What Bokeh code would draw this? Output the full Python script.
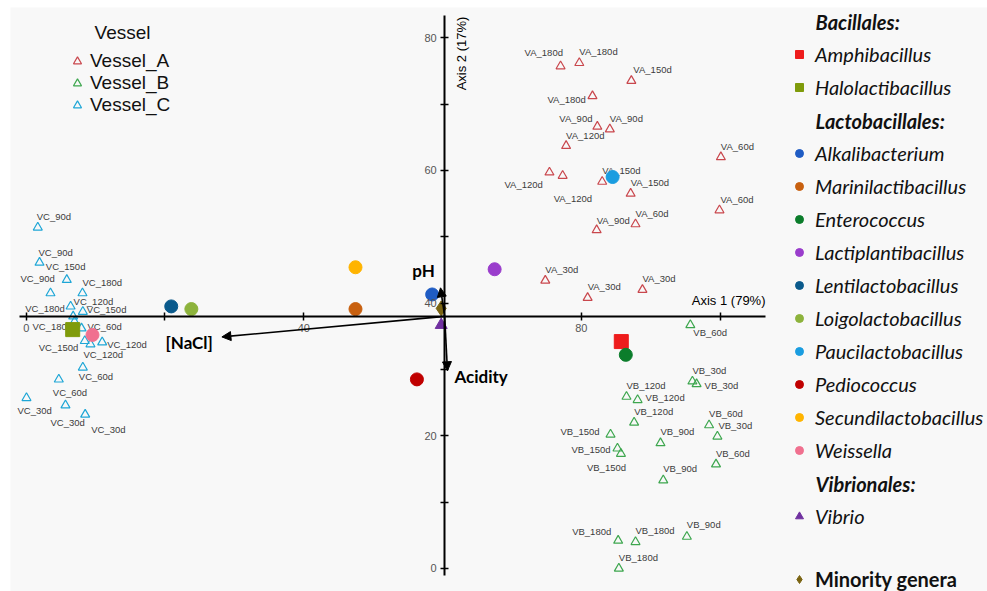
from bokeh.plotting import figure
from bokeh.models import (ColumnDataSource, LinearAxis, FixedTicker, Arrow, NormalHead,
                          Label, Legend, LegendItem, Range1d)
from bokeh.embed import file_html
from bokeh.resources import INLINE
from bokeh.core.properties import value
import math

# ---------------- data ----------------
va_x = [77.0, 79.7, 87.2, 81.6, 82.3, 84.1, 77.8, 100.1, 75.4, 77.3, 83.0, 87.1, 99.9, 82.2, 87.8, 74.8, 80.9, 88.8]
va_y = [75.7, 76.2, 73.5, 71.2, 66.6, 66.2, 63.7, 62.0, 59.7, 59.2, 58.3, 56.5, 54.0, 51.0, 51.9, 43.4, 40.8, 42.0]
va_lab = ["VA_180d", "VA_180d", "VA_150d", "VA_180d", "VA_90d", "VA_90d", "VA_120d", "VA_60d", "VA_120d",
          "VA_120d", "VA_150d", "VA_150d", "VA_60d", "VA_90d", "VA_60d", "VA_30d", "VA_30d", "VA_30d"]

vb_x = [95.7, 96.0, 96.6, 86.5, 88.1, 87.6, 98.4, 99.6, 84.2, 85.2, 85.7, 91.4, 99.4, 91.8, 85.3, 87.8, 95.2, 85.4]
vb_y = [36.7, 28.2, 27.8, 25.9, 25.4, 22.0, 21.6, 19.9, 20.2, 18.1, 17.3, 18.9, 15.7, 13.3, 4.2, 4.0, 4.8, 0.0]
vb_lab = ["VB_60d", "VB_30d", "VB_30d", "VB_120d", "VB_120d", "VB_120d", "VB_60d", "VB_30d", "VB_150d",
          "VB_150d", "VB_150d", "VB_90d", "VB_60d", "VB_90d", "VB_180d", "VB_180d", "VB_90d", "VB_180d"]

vc_x = [1.67, 1.92, 5.85, 3.50, 8.11, 6.40, 8.16, 6.77, 6.96, 7.97, 8.44, 10.95, 9.26, 8.16, 4.70, 0.04, 5.66, 8.50]
vc_y = [51.4, 46.1, 43.5, 41.5, 41.5, 39.5, 38.7, 38.0, 37.2, 36.2, 34.3, 34.1, 33.8, 30.3, 28.5, 25.7, 24.6, 23.2]
vc_lab = ["VC_90d", "VC_90d", "VC_150d", "VC_90d", "VC_180d", "VC_120d", "VC_150d", "VC_180d", "VC_180d",
          "VC_60d", "VC_150d", "VC_120d", "VC_120d", "VC_60d", "VC_60d", "VC_30d", "VC_30d", "VC_30d"]

vessels = ["Vessel_A", "Vessel_B", "Vessel_C"]

genera = ["Amphibacillus", "Halolactibacillus", "Alkalibacterium", "Marinilactibacillus", "Enterococcus",
          "Lactiplantibacillus", "Lentilactobacillus", "Loigolactobacillus", "Paucilactobacillus",
          "Pediococcus", "Secundilactobacillus", "Weissella", "Vibrio", "Minority genera"]
gen_order = ["Bacillales", "Bacillales", "Lactobacillales", "Lactobacillales", "Lactobacillales",
             "Lactobacillales", "Lactobacillales", "Lactobacillales", "Lactobacillales",
             "Lactobacillales", "Lactobacillales", "Lactobacillales", "Vibrionales", None]
gen_x = [85.75, 6.7, 58.5, 47.45, 86.4, 67.5, 20.9, 23.8, 84.5, 56.3, 47.45, 9.55, 59.8, 59.8]
gen_y = [34.2, 36.0, 41.3, 39.1, 32.2, 45.1, 39.5, 39.1, 59.0, 28.5, 45.4, 35.2, 36.7, 39.2]

env_names = ["pH", "Acidity", "[NaCl]"]
env_x = [59.7, 60.7, 28.2]
env_y = [42.3, 29.8, 34.9]
origin_x, origin_y = 60.3, 38.0

axis1_title = "Axis 1 (79%)"
axis2_title = "Axis 2 (17%)"
x_ticks = [0, 20, 40, 80, 100]
y_ticks = [0, 10, 20, 30, 40, 50, 60, 70, 80]

# ---------------- styling / layout (not data) ----------------
va_off = [(-36, -14), (0, -11), (2, -11), (-45, 3), (-38, -8), (0, -11), (0, -10), (0, -11), (-45, 12),
          (-9, 23), (0, -11), (0, -11), (1, -11), (0, -10), (0, -11), (0, -11), (0, -11), (0, -11)]
vb_off = [(3, 8), (0, -11), (8, 1), (0, -11), (8, -2), (0, -11), (0, -12), (1, -11), (-50, -3),
          (-46, 1), (-34, 14), (0, -12), (0, -11), (0, -12), (-46, -9), (0, -11), (0, -12), (0, -11)]
vc_off = [(-1, -11), (-1, -10), (-21, -13), (-30, -15), (0, -11), (3, -5), (4, -2), (-48, -8), (-42, 5),
          (6, -2), (-46, 7), (5, 2), (-7, 10), (-4, 9), (-6, 13), (-9, 13), (-15, 17), (6, 15)]
vessel_colors = ["#c9474d", "#3da64e", "#1ea6d6"]
gen_colors = ["#ee1c1c", "#7f9b0b", "#1f5cc4", "#c8600f", "#0b7d2b", "#9a3dcc", "#0a5a8c",
              "#8db33c", "#1a9de0", "#c00000", "#ffb400", "#f0708f", "#7030a0", "#7a6412"]
gen_markers = ["square", "square"] + ["circle"] * 10 + ["triangle", "diamond"]
gen_sizes = [14, 14] + [13] * 10 + [12, 15]
env_off = [(-17, -17, "center"), (7, 6, "left"), (-9, 6, "right")]

BG = "#f8f8f8"
FL, FT = 10, 7            # white strip at left / top
W, H = 987, 591
FW, FH = W - FL, H - FT   # frame size

p = figure(width=W, height=H, x_range=Range1d(-2.262, 138.52), y_range=Range1d(-3.47, 84.55),
           x_axis_type=None, y_axis_type=None, toolbar_location=None, output_backend="svg",
           min_border=0, min_border_left=FL, min_border_top=FT,
           background_fill_color=BG, border_fill_color="white", outline_line_color=None)

# axes crossing in the middle of the plot
xaxis = LinearAxis(fixed_location=origin_y, ticker=FixedTicker(ticks=x_ticks),
                   major_label_overrides={20: "", 100: ""}, bounds=(-1.0, 106.5))
yaxis = LinearAxis(fixed_location=origin_x, ticker=FixedTicker(ticks=y_ticks),
                   major_label_overrides={10: "", 30: "", 50: "", 70: ""}, bounds=(-1.1, 83.4))
for ax in (xaxis, yaxis):
    ax.axis_line_width = 2
    ax.axis_line_color = "black"
    ax.major_tick_in = 4
    ax.major_tick_out = 4
    ax.major_tick_line_width = 1.5
    ax.minor_tick_line_color = None
    ax.major_label_text_font = "Liberation Sans"
    ax.major_label_text_font_size = "11px"
    ax.major_label_text_color = "#555555"
    ax.major_label_standoff = 4
p.add_layout(xaxis, "below")
p.add_layout(yaxis, "left")

# sample points
sample_renderers = []
for xs, ys, labs, offs, col in ((va_x, va_y, va_lab, va_off, vessel_colors[0]),
                                (vb_x, vb_y, vb_lab, vb_off, vessel_colors[1]),
                                (vc_x, vc_y, vc_lab, vc_off, vessel_colors[2])):
    src = ColumnDataSource(dict(x=xs, y=ys, lab=labs, dx=[o[0] for o in offs], dy=[o[1] for o in offs]))
    r = p.scatter("x", "y", source=src, marker="triangle", size=9, fill_color=None,
                  line_color=col, line_width=1.2)
    sample_renderers.append(r)
    p.text("x", "y", text="lab", source=src, x_offset="dx", y_offset="dy",
           text_font=value("Liberation Sans"), text_font_size="9.5px", text_color="#3c3c3c",
           text_align="left", text_baseline="middle")

# environmental vectors
env_src = ColumnDataSource(dict(x0=[origin_x] * 3, y0=[origin_y] * 3, x1=env_x, y1=env_y))
p.add_layout(Arrow(end=NormalHead(size=9, fill_color="black", line_color="black"),
                   x_start="x0", y_start="y0", x_end="x1", y_end="y1", source=env_src,
                   line_width=1.6, line_color="black"))
for name, ex, ey, (ox, oy, al) in zip(env_names, env_x, env_y, env_off):
    p.text(x=[ex], y=[ey], text=[name], x_offset=ox, y_offset=oy,
           text_font=value("Lato"), text_font_style="bold", text_font_size="17px",
           text_color="black", text_align=al, text_baseline="middle")

# genera
gen_renderers = []
for gx, gy, col, mk, sz in zip(gen_x, gen_y, gen_colors, gen_markers, gen_sizes):
    r = p.scatter(x=[gx], y=[gy], marker=mk, size=sz, fill_color=col, line_color=col, line_width=1)
    gen_renderers.append(r)


def scr(px, py):
    """page pixel -> frame screen coords (y measured from the bottom)"""
    return px - FL, H - py


# axis titles
x1, y1 = scr(765, 300)
p.add_layout(Label(x=x1, y=y1, x_units="screen", y_units="screen", text=axis1_title,
                   text_font="Liberation Sans", text_font_size="13px", text_color="black",
                   text_align="right", text_baseline="middle"))
x2, y2 = scr(461, 53)
p.add_layout(Label(x=x2, y=y2, x_units="screen", y_units="screen", text=axis2_title, angle=math.pi / 2,
                   text_font="Liberation Sans", text_font_size="13px", text_color="black",
                   text_align="center", text_baseline="middle"))

# vessel legend
vx, vy = scr(122, 32)
p.add_layout(Label(x=vx, y=vy, x_units="screen", y_units="screen", text="Vessel",
                   text_font="Liberation Sans", text_font_size="19px", text_color="#111111",
                   text_align="center", text_baseline="middle"))
lx, ly = scr(67, 116)
vleg = Legend(items=[LegendItem(label=v, renderers=[r]) for v, r in zip(vessels, sample_renderers)],
              location=(lx, ly), orientation="vertical", padding=0, margin=0, spacing=0,
              glyph_width=20, glyph_height=22, label_height=22, label_standoff=3,
              label_text_font="Liberation Sans", label_text_font_size="19px", label_text_color="#111111",
              background_fill_alpha=0, border_line_color=None)
p.add_layout(vleg, "center")

# genera legend with order headers
spacer = p.scatter(x=[], y=[], marker="circle", size=1, fill_alpha=0, line_alpha=0)
items = []
headers = []
prev = None
for g, o, r in zip(genera[:-1], gen_order[:-1], gen_renderers[:-1]):
    if o != prev:
        headers.append((o, len(items)))
        items.append(LegendItem(label=" ", renderers=[spacer]))
        prev = o
    items.append(LegendItem(label=g, renderers=[r]))
ITEM_H, GAP = 24, 9
leg_h = len(items) * ITEM_H + (len(items) - 1) * GAP
gx0, gy0 = scr(789, 9 + leg_h)
gleg = Legend(items=items, location=(gx0, gy0), orientation="vertical", padding=0, margin=0, spacing=GAP,
              glyph_width=20, glyph_height=ITEM_H, label_height=ITEM_H, label_standoff=6,
              label_text_font="Lato", label_text_font_style="italic", label_text_font_size="20px",
              label_text_color="#111111", background_fill_alpha=0, border_line_color=None)
p.add_layout(gleg, "center")
for name, idx in headers:
    hx, hy = scr(815, 21 + (ITEM_H + GAP) * idx)
    p.add_layout(Label(x=hx, y=hy, x_units="screen", y_units="screen", text=name + ":",
                       text_font="Lato", text_font_style="bold italic", text_font_size="20px",
                       text_color="#111111", text_align="left", text_baseline="middle"))

mx, my = scr(789, 591)
mleg = Legend(items=[LegendItem(label=genera[-1], renderers=[gen_renderers[-1]])], location=(mx, my),
              padding=0, margin=0, glyph_width=20, glyph_height=ITEM_H, label_height=ITEM_H, label_standoff=6,
              label_text_font="Lato", label_text_font_style="bold", label_text_font_size="20px",
              label_text_color="#111111", background_fill_alpha=0, border_line_color=None)
p.add_layout(mleg, "center")

open("out.html", "w").write(file_html(p, INLINE))
